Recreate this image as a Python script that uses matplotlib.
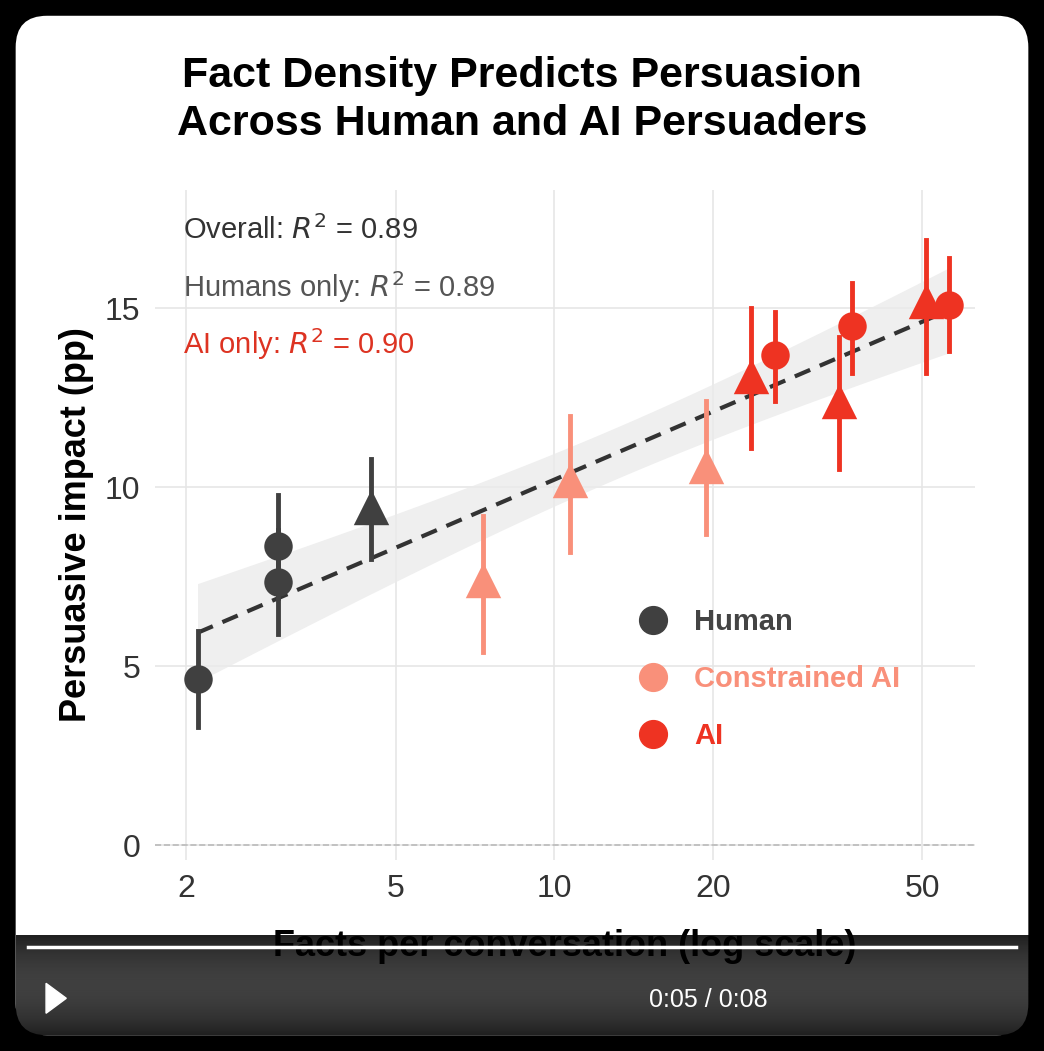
import numpy as np
import matplotlib.pyplot as plt
from matplotlib.patches import FancyBboxPatch
from matplotlib.lines import Line2D

plt.rcParams['font.family'] = ['Liberation Sans', 'DejaVu Sans']

# data
groups = ["Human", "Constrained AI", "AI"]
colors = {"Human": "#404040", "Constrained AI": "#F9907A", "AI": "#EE3322"}
facts = [2.1, 2.98, 2.98, 4.48, 7.32, 10.7, 19.4, 23.6, 26.3, 34.7, 36.7, 50.9, 56.1]
impact = [4.65, 7.35, 8.35, 9.45, 7.4, 10.2, 10.6, 13.1, 13.7, 12.4, 14.5, 15.2, 15.1]
lo = [3.3, 5.9, 6.9, 8.0, 5.4, 8.2, 8.7, 11.1, 12.4, 10.5, 13.2, 13.2, 13.8]
hi = [6.0, 8.8, 9.8, 10.8, 9.2, 12.0, 12.4, 15.0, 14.9, 14.2, 15.7, 16.9, 16.4]
group = ["Human"] * 4 + ["Constrained AI"] * 3 + ["AI"] * 6
marker = ["o", "o", "o", "^", "^", "^", "^", "^", "o", "^", "o", "^", "o"]

fig = plt.figure(figsize=(10.44, 10.51), dpi=100)
fig.patch.set_facecolor("black")
fig.patches.append(FancyBboxPatch((0.015, 0.015), 0.97, 0.97, boxstyle="round,pad=0,rounding_size=0.03",
                                  transform=fig.transFigure, facecolor="white", edgecolor="none", zorder=-5))

ax = fig.add_axes([0.148, 0.182, 0.786, 0.637])
ax.set_facecolor("none")
ax.set_xscale("log")

# fit and band
lx = np.log10(facts)
b, a = np.polyfit(lx, impact, 1)
res = np.array(impact) - (a + b * lx)
n = len(lx)
s = np.sqrt((res ** 2).sum() / (n - 2))
xs = np.linspace(lx.min(), lx.max(), 100)
se = s * np.sqrt(1 / n + (xs - lx.mean()) ** 2 / ((lx - lx.mean()) ** 2).sum())
ys = a + b * xs
ax.fill_between(10 ** xs, ys - 2.2 * se, ys + 2.2 * se, color="#EBEBEB", alpha=0.8, lw=0, zorder=1)
ax.plot(10 ** xs, ys, ls=(0, (4, 2.5)), color="#333333", lw=3, zorder=2)

for x, y, l, h, g, m in zip(facts, impact, lo, hi, group, marker):
    c = colors[g]
    ax.plot([x, x], [l, h], color=c, lw=3.5, zorder=3)
    ax.scatter([x], [y], marker=m, s=650 if m == "^" else 420, color=c, zorder=4, lw=0)

ax.axhline(0, color="#BBBBBB", ls="--", lw=1.2, zorder=1)
ax.set_xlim(1.74, 63)
ax.set_ylim(-0.4, 18.3)
ax.set_xticks([2, 5, 10, 20, 50])
ax.set_xticklabels(["2", "5", "10", "20", "50"])
ax.set_yticks([0, 5, 10, 15])
ax.minorticks_off()
ax.grid(True, color="#E6E6E6", lw=1.2)
ax.set_axisbelow(True)
for sp in ax.spines.values():
    sp.set_visible(False)
ax.tick_params(length=0, labelsize=23, labelcolor="#333333", pad=10)
ax.set_ylabel("Persuasive impact (pp)", fontsize=26, fontweight="bold", labelpad=8)
ax.set_xlabel("Facts per conversation (log scale)", fontsize=26, fontweight="bold", labelpad=18)

fig.text(0.5, 0.905, "Fact Density Predicts Persuasion\nAcross Human and AI Persuaders",
         ha="center", va="center", fontsize=31, fontweight="bold", linespacing=1.25)

ax.text(0.035, 0.94, "Overall: $R^2$ = 0.89", transform=ax.transAxes, fontsize=21, color="#333333", va="center")
ax.text(0.035, 0.855, "Humans only: $R^2$ = 0.89", transform=ax.transAxes, fontsize=21, color="#555555", va="center")
ax.text(0.035, 0.77, "AI only: $R^2$ = 0.90", transform=ax.transAxes, fontsize=21, color="#DD3322", va="center")

handles = [Line2D([], [], marker="o", ls="", color=colors[g], markersize=20) for g in groups]
leg = ax.legend(handles, groups, loc="center left", bbox_to_anchor=(0.54, 0.27), frameon=False,
                labelspacing=1.0, handletextpad=0.4, prop={"weight": "bold", "size": 21})
for t, g in zip(leg.get_texts(), groups):
    t.set_color(colors[g] if g != "Human" else "#444444")

# video player overlay at the bottom
ov = fig.add_axes([0.015, 0.015, 0.97, 0.095])
alpha = np.linspace(0, 0.85, 100) ** 0.8
img = np.zeros((100, 1, 4))
img[:, 0, 3] = alpha
ov.imshow(img, aspect="auto", extent=[0, 1, 0, 1], origin="lower")
ov.imshow(img[::-1], aspect="auto", extent=[0, 1, 0, 1], origin="lower")
ov.plot([0.012, 0.988], [0.88, 0.88], color="white", lw=2.5)
ov.text(0.625, 0.35, "0:05 / 0:08", color="white", fontsize=18, va="center")
ov.fill([0.03, 0.03, 0.05], [0.22, 0.52, 0.37], color="white")
ov.set_xlim(0, 1)
ov.set_ylim(0, 1)
ov.axis("off")

fig.savefig("out.png", dpi=100, facecolor="black")
